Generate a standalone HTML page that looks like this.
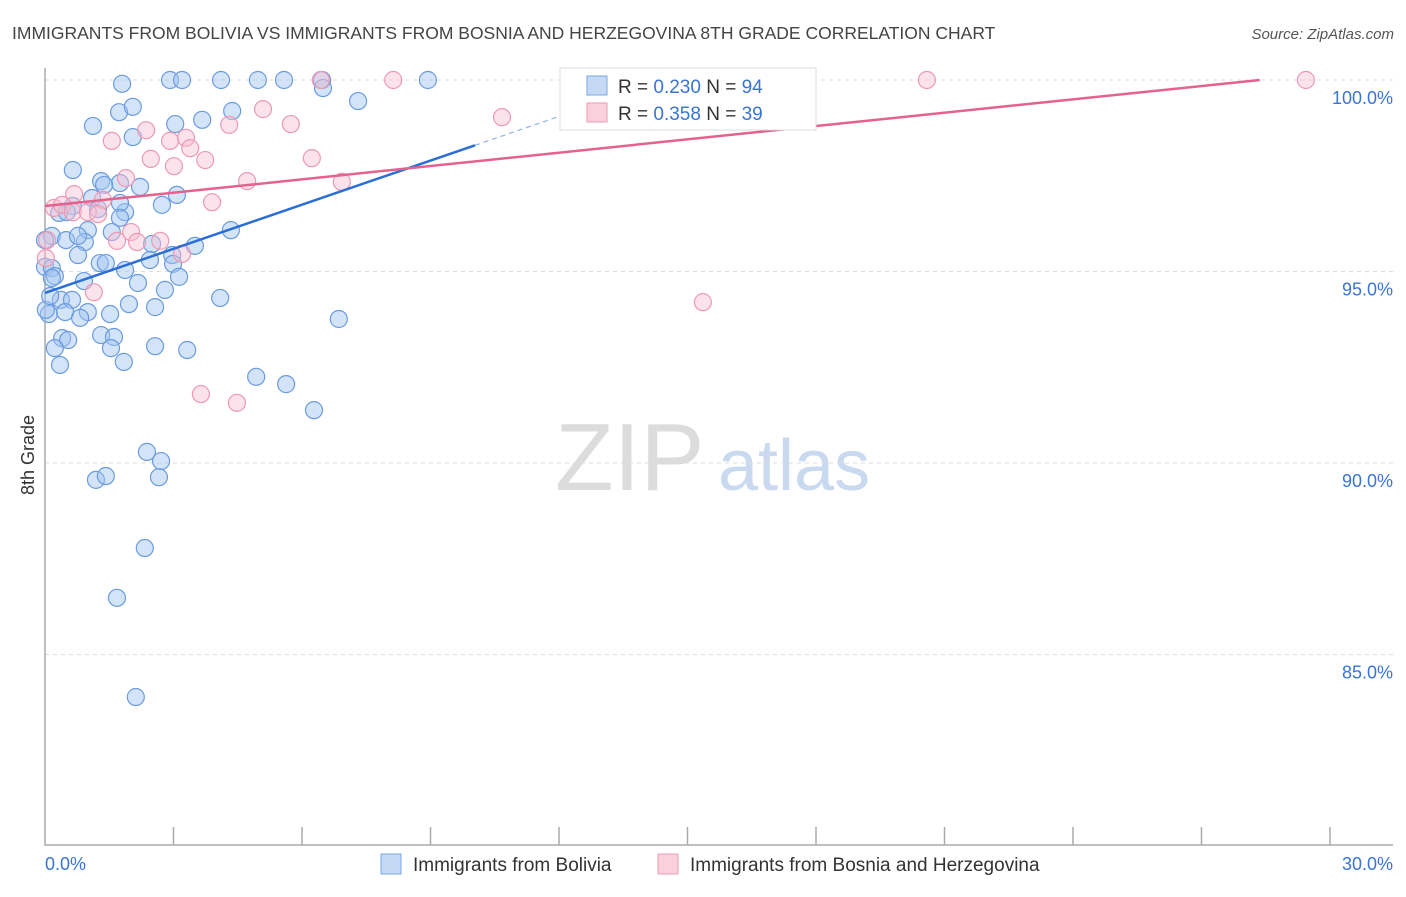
<!DOCTYPE html>
<html><head><meta charset="utf-8"><style>
body{margin:0;background:#fff;font-family:"Liberation Sans",sans-serif}
svg text{font-family:"Liberation Sans",sans-serif}
</style></head><body>
<svg id="chart" width="1406" height="892" viewBox="0 0 1406 892">
<text x="12" y="39" font-size="17.5" fill="#444">IMMIGRANTS FROM BOLIVIA VS IMMIGRANTS FROM BOSNIA AND HERZEGOVINA 8TH GRADE CORRELATION CHART</text>
<text x="1394" y="39" font-size="15" fill="#555" text-anchor="end" font-style="italic">Source: ZipAtlas.com</text>
<g>
<text x="555" y="490" font-size="96" fill="#dcdcdc" font-family="Liberation Serif">ZIP</text>
<text x="718" y="490" font-size="72" fill="#c9d9f0">atlas</text>
</g>
<text transform="translate(34,455) rotate(-90)" font-size="18" fill="#333" text-anchor="middle">8th Grade</text>
<g id="grid"></g><g id="axes"></g><g id="pts"></g><g id="lines"></g>
<g>
<rect x="560" y="68" width="256" height="62" fill="#fff" stroke="#ddd"/>
<rect x="587" y="76" width="20" height="19" fill="#c5d9f5" stroke="#7aa6e6"/>
<text x="618" y="93" font-size="19" fill="#333">R = <tspan fill="#3a74d4">0.230</tspan>   N = <tspan fill="#3a74d4">94</tspan></text>
<rect x="587" y="103" width="20" height="19" fill="#fad0dd" stroke="#ee9ab3"/>
<text x="618" y="120" font-size="19" fill="#333">R = <tspan fill="#3a74d4">0.358</tspan>   N = <tspan fill="#3a74d4">39</tspan></text>
</g>
<g>
<rect x="381" y="854" width="20" height="20" fill="#c5d9f5" stroke="#7aa6e6"/>
<text x="413" y="871" font-size="19" fill="#333">Immigrants from Bolivia</text>
<rect x="658" y="854" width="20" height="20" fill="#fad0dd" stroke="#ee9ab3"/>
<text x="690" y="871" font-size="19" fill="#333">Immigrants from Bosnia and Herzegovina</text>
</g>
</svg>
<script>
const yTicks=[100,95,90,85];
const yTickLabels=["100.0%","95.0%","90.0%","85.0%"];
const xTickLabels=["0.0%","30.0%"];
const blueX=[1.80,2.92,3.20,4.11,4.97,5.58,6.47,8.94,6.49,7.31,1.12,1.73,2.05,3.04,3.67,4.37,2.05,0.65,1.31,1.75,1.38,2.22,3.08,1.10,0.65,0.33,0.51,1.24,1.87,2.73,1.75,4.34,1.00,0.16,0.49,0.93,0.77,2.50,3.50,0.00,0,0.16,0.77,1.28,1.42,1.87,2.97,2.99,3.13,2.17,0.91,0.23,0.16,2.80,0.37,0.63,1.96,2.57,4.09,6.86,0.09,0.47,1.00,0.82,1.52,1.31,1.61,0.40,0.54,1.54,2.57,3.32,0.23,0.35,1.84,4.93,5.63,6.28,2.38,2.71,2.66,1.19,1.42,2.33,1.68,2.12,0.02,0.12,1.75,1.56,2.45];
const blueY=[99.9,100,100,100,100,100,100,100,99.79,99.45,98.80,99.16,99.30,98.85,98.96,99.19,98.51,97.65,97.36,97.31,97.26,97.21,97.00,96.92,96.71,96.53,96.55,96.63,96.55,96.74,96.79,96.08,96.08,95.93,95.82,95.77,95.93,95.72,95.67,95.82,95.12,95.09,95.43,95.22,95.22,95.04,95.43,95.20,94.86,94.70,94.75,94.88,94.83,94.52,94.26,94.26,94.15,94.07,94.31,93.76,93.89,93.94,93.94,93.79,93.89,93.34,93.29,93.26,93.21,93.00,93.05,92.95,93.00,92.56,92.64,92.25,92.06,91.38,90.29,90.05,89.63,89.56,89.66,87.78,86.48,83.89,94.0,94.36,96.4,96.03,95.3];
const pinkX=[6.44,8.13,20.59,29.44,10.67,5.09,5.74,4.30,2.36,1.56,3.29,2.92,3.74,3.39,2.47,3.01,6.23,4.72,6.93,1.89,3.90,0.68,1.35,0.21,0.40,0.65,1.00,1.24,2.01,1.68,2.15,2.69,3.20,0.02,1.14,3.64,4.48,15.36,0.05];
const pinkY=[100,100,100,100,99.03,99.24,98.85,98.83,98.69,98.41,98.49,98.41,97.91,98.22,97.94,97.75,97.96,97.36,97.34,97.44,96.81,97.02,96.87,96.66,96.74,96.55,96.55,96.50,96.03,95.80,95.77,95.80,95.46,95.35,94.46,91.80,91.57,94.20,95.82];
const blueTrend=[94.44,0.384]; // intercept, slope
const pinkTrend=[96.71,0.116];
const NS="http://www.w3.org/2000/svg";
const X=v=>45+v*42.83, Y=v=>80+(100-v)*38.3;
function mk(tag,attrs,parent){const e=document.createElementNS(NS,tag);for(const k in attrs)e.setAttribute(k,attrs[k]);parent.appendChild(e);return e;}
const grid=document.getElementById('grid'),axes=document.getElementById('axes'),pts=document.getElementById('pts'),lines=document.getElementById('lines');
yTicks.forEach((t,i)=>{
 const l=mk('line',{x1:45,x2:1393,y1:Y(t),y2:Y(t),stroke:'#ddd','stroke-dasharray':'4,4'},grid);
 
 
 const tx=mk('text',{x:1393,y:Y(t)+24,'font-size':18,fill:'#3a74d4','text-anchor':'end'},axes);
 tx.textContent=yTickLabels[i];
 
 
});
const ax=mk('path',{d:'M45,68 V845 H1393',fill:'none',stroke:'#aaa','stroke-width':1.5},axes);


for(let i=1;i<=10;i++){
 const t=mk('line',{x1:45+i*128.5,x2:45+i*128.5,y1:827,y2:845,stroke:'#aaa','stroke-width':1.5},axes);
 
 
}
[[0,'start',45],[30,'end',1393]].forEach((d,i)=>{
 const tx=mk('text',{x:d[2],y:870,'font-size':18,fill:'#3a74d4','text-anchor':d[1]},axes);
 tx.textContent=xTickLabels[i];
 
 
});
blueX.forEach((x,i)=>{
 const c=mk('circle',{cx:X(x),cy:Y(blueY[i]),r:8.5,fill:'rgba(160,195,240,0.45)',stroke:'#6a9be0','stroke-width':1.2},pts);
 
 
});
pinkX.forEach((x,i)=>{
 const c=mk('circle',{cx:X(x),cy:Y(pinkY[i]),r:8.5,fill:'rgba(248,190,208,0.45)',stroke:'#ec9ab3','stroke-width':1.2},pts);
 
 
});
const b1=mk('line',{x1:X(0),y1:Y(blueTrend[0]),x2:X(10.04),y2:Y(blueTrend[0]+blueTrend[1]*10.04),stroke:'#2a6fd6','stroke-width':2.5},lines);


const b2=mk('line',{x1:X(10.04),y1:Y(blueTrend[0]+blueTrend[1]*10.04),x2:X(13),y2:Y(blueTrend[0]+blueTrend[1]*13),stroke:'#8fb3ea','stroke-width':1.2,'stroke-dasharray':'5,4'},lines);


const xe=(100-pinkTrend[0])/pinkTrend[1];
const p1=mk('line',{x1:X(0),y1:Y(pinkTrend[0]),x2:X(xe),y2:Y(100),stroke:'#e4628c','stroke-width':2.5},lines);


</script>
</body></html>
